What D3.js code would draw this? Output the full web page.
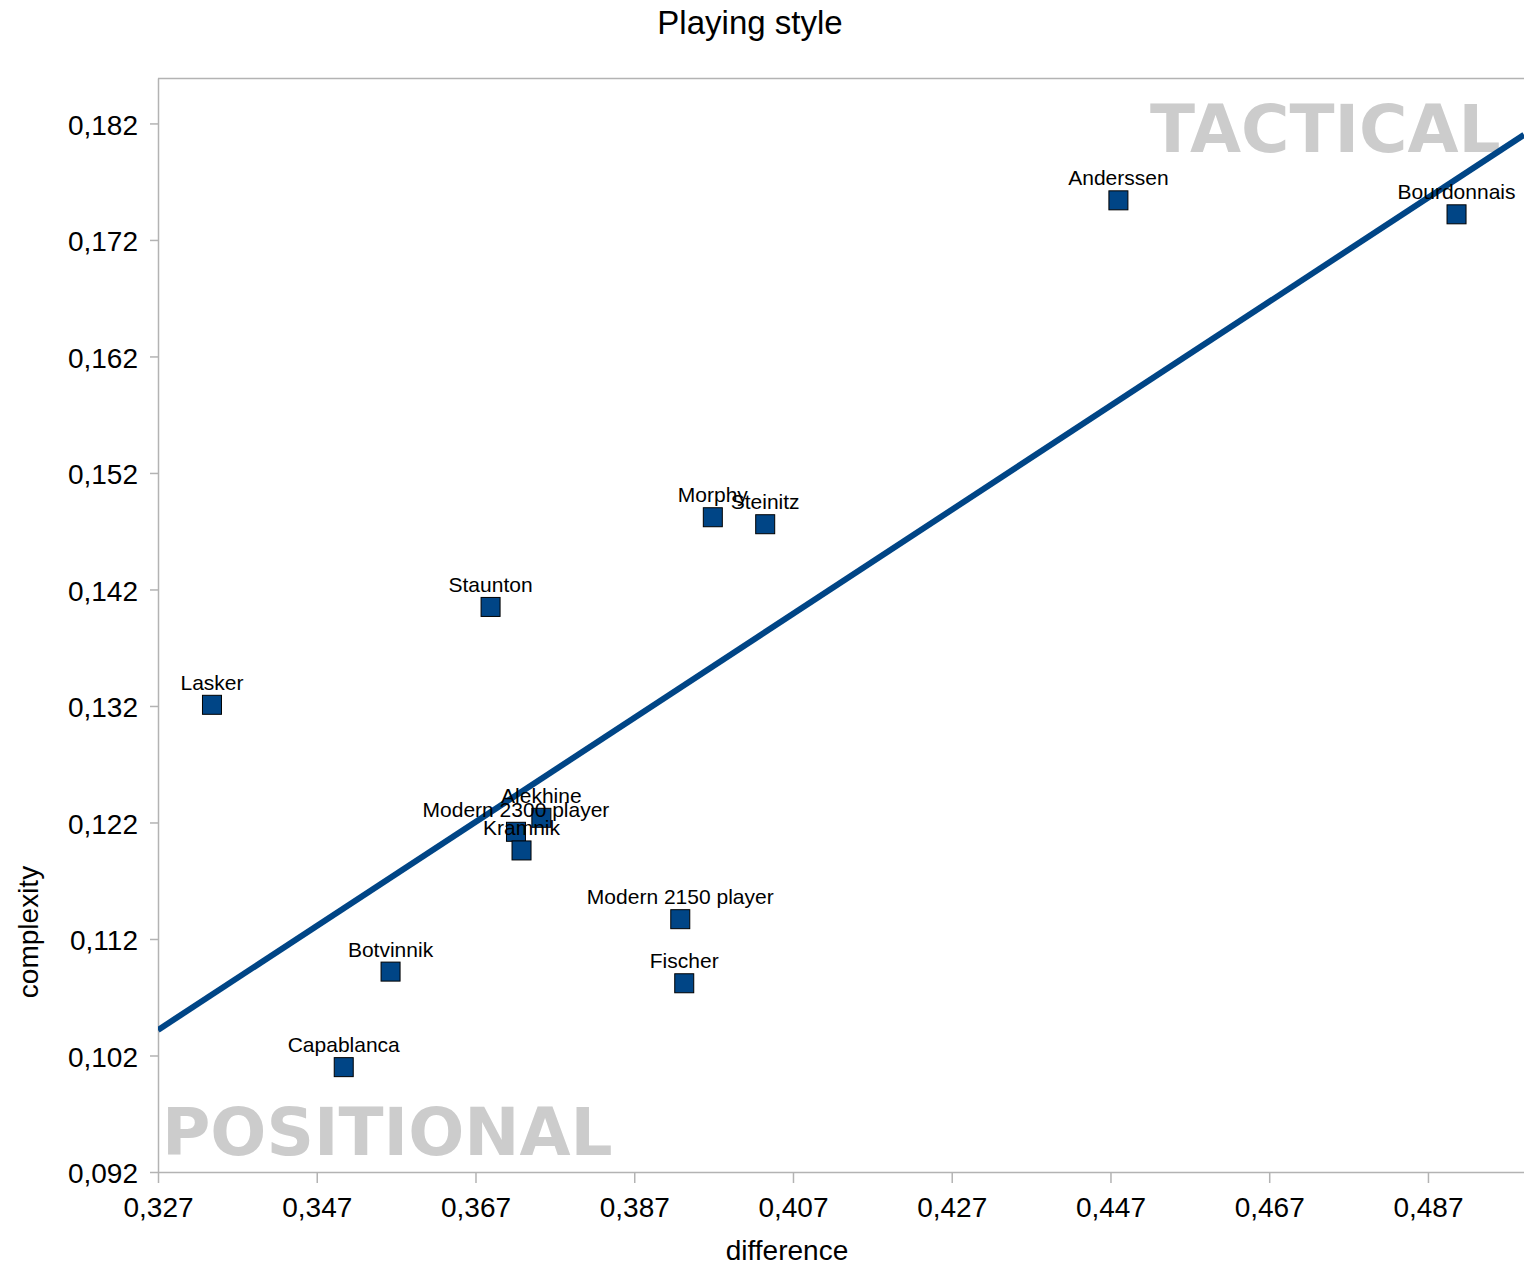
<!DOCTYPE html>
<html><head><meta charset="utf-8">
<script src="https://cdn.jsdelivr.net/npm/d3@7/dist/d3.min.js"></script>
<style>
html,body{margin:0;padding:0;background:#fff;}
text{font-family:"Liberation Sans",Arial,sans-serif;}
text.wm{font-family:"DejaVu Sans",Verdana,sans-serif;font-weight:bold;}
</style></head>
<body>
<svg id="chart" width="1524" height="1271"></svg>
<script>
const players = ["Lasker","Capablanca","Botvinnik","Staunton","Modern 2300 player","Kramnik","Alekhine","Modern 2150 player","Fischer","Morphy","Steinitz","Anderssen","Bourdonnais"];
const difference = [0.3338,0.3504,0.3563,0.3689,0.3721,0.3728,0.3753,0.3928,0.3933,0.3969,0.4035,0.4480,0.4906];
const complexity = [0.1321,0.1010,0.1092,0.1405,0.1212,0.1196,0.1224,0.1137,0.1082,0.1482,0.1476,0.1754,0.1742];
const xTicks = [0.327,0.347,0.367,0.387,0.407,0.427,0.447,0.467,0.487];
const yTicks = [0.092,0.102,0.112,0.122,0.132,0.142,0.152,0.162,0.172,0.182];

const svg = d3.select("#chart");
const L=158, R=1524, T=78, B=1172;
const x = d3.scaleLinear().domain([0.327,0.4991]).range([L,R]);
const y = d3.scaleLinear().domain([0.092,0.18590]).range([B,T]);
const fmt = d => d.toFixed(3).replace(".",",");
const grey = "#b3b3b3";

// Frame
svg.append("line").attr("x1",L).attr("x2",R).attr("y1",T+0.5).attr("y2",T+0.5).attr("stroke",grey).attr("stroke-width",1.5);

// Axes
const xAxis = svg.append("g").attr("transform",`translate(0,${B})`)
  .call(d3.axisBottom(x).tickValues(xTicks).tickFormat(fmt).tickSize(11).tickPadding(14).tickSizeOuter(0));
const yAxis = svg.append("g").attr("transform",`translate(${L},0)`)
  .call(d3.axisLeft(y).tickValues(yTicks).tickFormat(fmt).tickSize(8).tickPadding(12).tickSizeOuter(0));
[xAxis,yAxis].forEach(g=>{
  g.select(".domain").attr("stroke",grey).attr("stroke-width",1.5);
  g.selectAll(".tick line").attr("stroke",grey).attr("stroke-width",1.5);
  g.selectAll(".tick text").attr("font-size",28).attr("fill","#000");
});
yAxis.selectAll(".tick text").attr("dy","0.38em");

// Background watermark text
svg.append("text").attr("class","wm").text("TACTICAL").attr("x",1150).attr("y",152)
  .attr("font-size",66).attr("fill","#cccccc");
svg.append("text").attr("class","wm").text("POSITIONAL").attr("x",162).attr("y",1155)
  .attr("font-size",66).attr("fill","#cccccc");

// Regression trend line
const n = difference.length;
const mx = d3.mean(difference), my = d3.mean(complexity);
let sxy=0, sxx=0;
for(let i=0;i<n;i++){ sxy+=(difference[i]-mx)*(complexity[i]-my); sxx+=(difference[i]-mx)**2; }
const slope = sxy/sxx, icpt = my - slope*mx;
svg.append("clipPath").attr("id","clip").append("rect").attr("x",L).attr("y",T).attr("width",R-L).attr("height",B-T);
const xd = x.domain();
svg.append("line").attr("clip-path","url(#clip)")
  .attr("x1",x(xd[0])).attr("y1",y(icpt+slope*xd[0]))
  .attr("x2",x(xd[1])).attr("y2",y(icpt+slope*xd[1]))
  .attr("stroke","#004586").attr("stroke-width",6);

// Points
const data = players.map((p,i)=>({name:p,x:difference[i],y:complexity[i]}));
const S=19;
svg.append("g").selectAll("rect").data(data).join("rect")
  .attr("x",d=>x(d.x)-S/2).attr("y",d=>y(d.y)-S/2).attr("width",S).attr("height",S)
  .attr("fill","#004586").attr("stroke","#000").attr("stroke-width",1);
svg.append("g").selectAll("text").data(data).join("text")
  .attr("x",d=>x(d.x)).attr("y",d=>y(d.y)-15).attr("text-anchor","middle")
  .attr("font-size",21).attr("fill","#000").text(d=>d.name);

// Titles
svg.append("text").text("Playing style").attr("x",750).attr("y",34).attr("text-anchor","middle").attr("font-size",33).attr("fill","#000");
svg.append("text").text("difference").attr("x",787).attr("y",1260).attr("text-anchor","middle").attr("font-size",28).attr("fill","#000");
svg.append("text").text("complexity").attr("transform","translate(38,932) rotate(-90)").attr("text-anchor","middle").attr("font-size",28).attr("fill","#000");
</script>
</body></html>
